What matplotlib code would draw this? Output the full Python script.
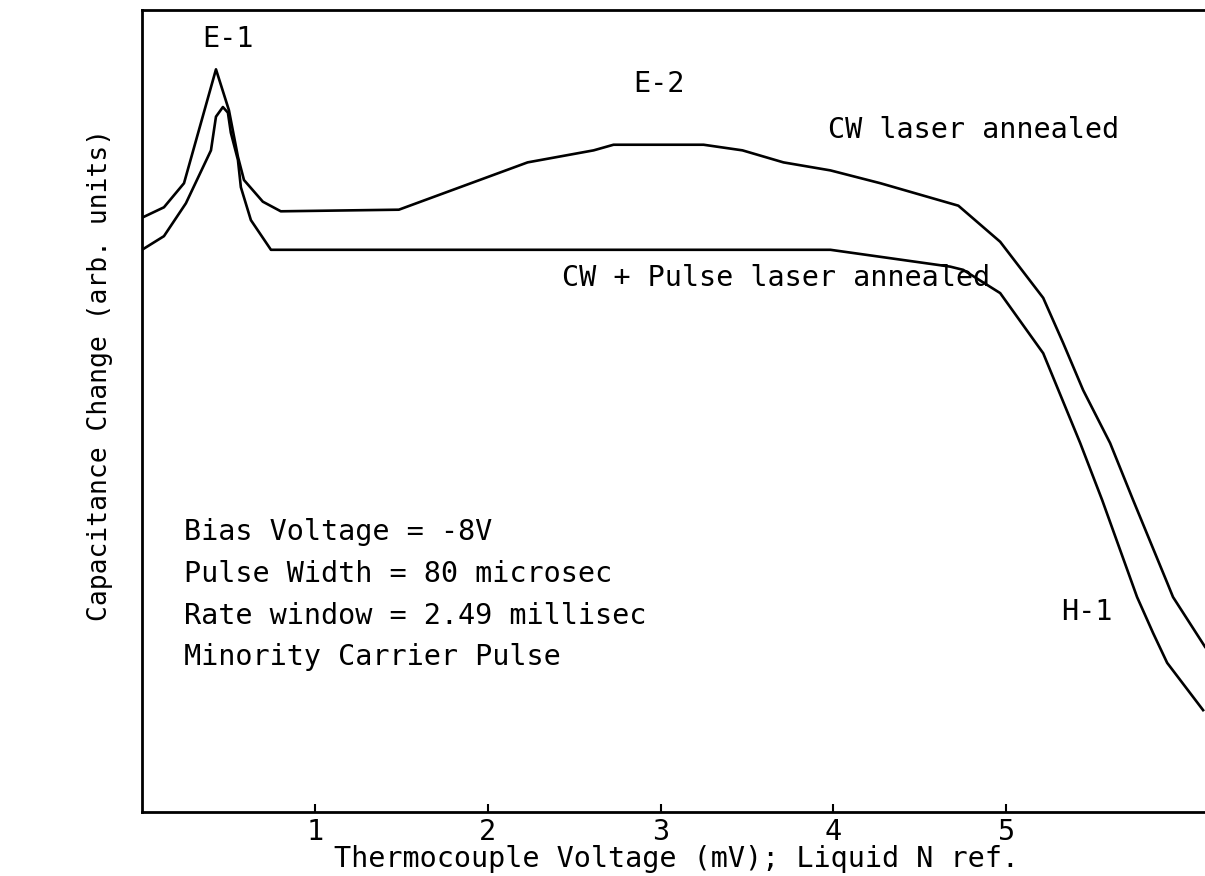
import matplotlib
matplotlib.use("Agg")
import matplotlib.pyplot as plt

# thermocouple voltage (mV) / capacitance change (arb. units)
cw_x = [0.0, 0.127, 0.243, 0.428, 0.503, 0.555, 0.590, 0.699, 0.803, 1.486,
        2.231, 2.613, 2.728, 3.249, 3.474, 3.711, 3.983, 4.272, 4.723, 4.965,
        5.214, 5.329, 5.445, 5.601, 5.734, 5.931, 5.965, 6.150]
cw_y = [7.41, 7.54, 7.84, 9.26, 8.75, 8.17, 7.88, 7.61, 7.49, 7.51,
        8.10, 8.25, 8.32, 8.32, 8.25, 8.10, 8.00, 7.84, 7.56, 7.11,
        6.41, 5.85, 5.26, 4.60, 3.89, 2.86, 2.68, 2.06]

pulse_x = [0.0, 0.127, 0.254, 0.399, 0.428, 0.468, 0.497, 0.514, 0.555, 0.572,
           0.630, 0.746, 3.983, 4.676, 4.751, 4.965, 5.214, 5.428, 5.555, 5.757,
           5.850, 5.931, 6.139]
pulse_y = [7.01, 7.18, 7.59, 8.25, 8.67, 8.79, 8.72, 8.47, 8.13, 7.79,
           7.38, 7.01, 7.01, 6.80, 6.76, 6.47, 5.72, 4.60, 3.89, 2.68,
           2.23, 1.86, 1.27]

xticks = [1, 2, 3, 4, 5]
notes = ["Bias Voltage = -8V", "Pulse Width = 80 microsec",
         "Rate window = 2.49 millisec", "Minority Carrier Pulse"]

plt.rcParams['font.family'] = ['DejaVu Sans Mono', 'DejaVu Sans']
fs = 20.5

fig = plt.figure(figsize=(12.05, 8.76), dpi=100)
W, H = 1205.0, 876.0
ax = fig.add_axes([142 / W, (H - 812) / H, (1205 - 142) / W, (812 - 10) / H])

ax.plot(cw_x, cw_y, color='black', lw=1.9, solid_joinstyle='round')
ax.plot(pulse_x, pulse_y, color='black', lw=1.9, solid_joinstyle='round')

ax.set_xlim(0, 6.15)
ax.set_ylim(0, 10)
ax.set_xticks(xticks)
ax.set_xticklabels([str(t) for t in xticks], fontsize=fs)
ax.tick_params(axis='x', direction='in', length=6, width=1.5, pad=4)
ax.set_yticks([])
ax.spines['right'].set_visible(False)
for s in ['left', 'top', 'bottom']:
    ax.spines[s].set_linewidth(2.0)

ax.text(0.35, 9.54, "E-1", fontsize=fs, ha='left', va='baseline')
ax.text(2.84, 8.98, "E-2", fontsize=fs, ha='left', va='baseline')
ax.text(3.97, 8.40, "CW laser annealed", fontsize=fs, ha='left', va='baseline')
ax.text(2.43, 6.56, "CW + Pulse laser annealed", fontsize=fs, ha='left', va='baseline')
ax.text(5.32, 2.39, "H-1", fontsize=fs, ha='left', va='baseline')
for i, line in enumerate(notes):
    ax.text(0.243, 3.39 - i * 0.52, line, fontsize=fs, ha='left', va='baseline')

fig.text(677 / W, 1 - 867 / H, "Thermocouple Voltage (mV); Liquid N ref.",
         fontsize=fs, ha='center', va='baseline')
fig.text(100 / W, 1 - 375 / H, "Capacitance Change (arb. units)",
         fontsize=19, ha='center', va='center', rotation=90)

fig.savefig("out.png", dpi=100, facecolor='white')
